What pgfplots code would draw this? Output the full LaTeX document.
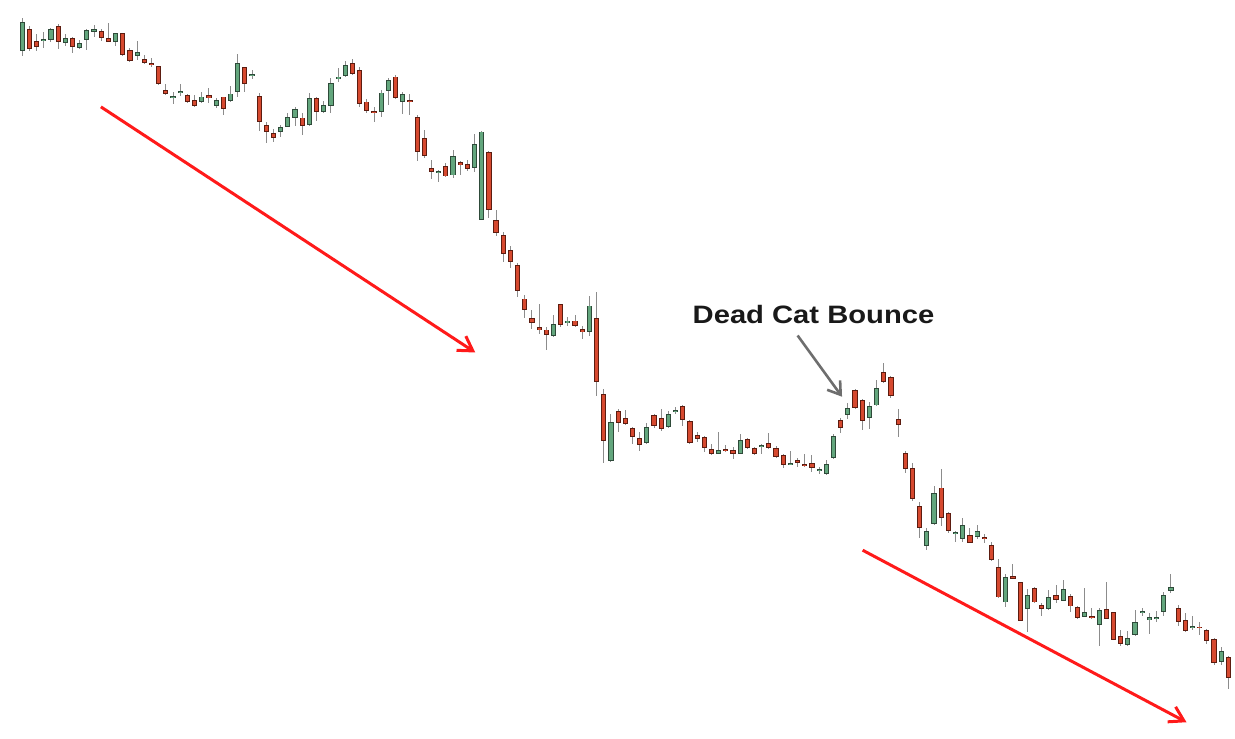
\documentclass[border=0pt]{standalone}
\usepackage{graphicx}
\usepackage{pgfplots}
\usepackage{pgfplotstable}
\pgfplotsset{compat=1.18}
\usepackage{fontspec}
\setmainfont{Liberation Sans}
\usetikzlibrary{arrows.meta}

\definecolor{upfill}{HTML}{63A67D}
\definecolor{upedge}{HTML}{2E4A39}
\definecolor{dnfill}{HTML}{D6492F}
\definecolor{dnedge}{HTML}{5C1C10}
\definecolor{wickc}{HTML}{8C8C8C}
\definecolor{trendred}{HTML}{FF1A1A}
\definecolor{notegray}{HTML}{6E6E6E}

% candles: i = bar number, h/l = high/low, t/b = top/bottom of the body
% (values are picture heights, measured from the top)
\pgfplotstableread{
i h l t b
1 17.7 55.7 22.3 51
4 31.7 48.3 39 40.3
5 27.7 42.3 29 40
7 34.3 45.7 38.3 43.3
9 40 49.3 43.3 48
10 29 50 30 40
11 25 37 29 31.7
14 33.3 45.7 33.3 41.7
17 41 60 51.7 55.7
22 91.7 104.3 96.3 97.3
23 84.3 96.3 91.3 92.7
26 92.3 103.3 96.7 102.3
28 98.3 107.7 100 105.7
30 85.7 101.7 93.7 101
31 54.3 96.7 62.7 92.3
33 70 79.3 74.7 76
37 125 137.3 127.3 131.7
38 113.3 127.3 117.3 126.7
39 106.7 126 109.3 117.7
41 93.3 126 98.3 125
43 100.7 113.3 105 112.3
44 78.3 113.3 83.3 105.7
45 68.3 81.7 76.7 79.3
46 60.7 77.3 64.7 75.7
51 90 117.3 92.7 111.7
52 78.3 105 80 91
54 91.7 114 94.3 102.3
59 170.7 182.7 171.7 173
61 150 178.3 156 175.7
64 134 172.3 144 168.3
65 130.7 220.7 131.7 220
75 315 337.3 324.3 336.7
77 317.7 326 321 323.3
80 296 336.7 306 332.7
83 415 462.3 422.3 461.7
88 423.3 444.3 427.7 443.3
91 411.7 428.3 415 427.7
92 407.3 415 410.7 412.3
98 432.3 455 451 454.3
101 434.3 455 441 454.3
104 444.3 454.3 445.7 447.7
108 451.7 465 464 465.5
112 467.7 475 470 471
113 460.5 475.5 465 474.7
114 435 460 436.7 459
116 404 420 408.3 416
119 402.3 430 406.7 419
120 380.7 406.7 388.3 406
127 528.3 550.7 531.7 546.7
128 486.7 525.7 494 525
131 531.7 543.3 533.3 534.3
132 518.3 542.7 526 540
134 526 540 531.7 537.7
138 575 608.3 578.3 603.3
141 590 632.7 596 610
144 591 610.7 598.3 610
146 581 602.3 590 601.7
149 589.3 618.3 612.7 617.5
151 609.3 647.3 610.7 625.7
155 631.7 646.7 639 645.7
156 610.7 636.7 622.7 636
157 609.3 616.7 611.7 614
158 614 635 618.3 620.7
159 611.7 623.3 618.3 619.3
160 593.3 617.3 596 613.3
161 575 594.3 587.7 591.7
164 616.7 631 626.7 629
168 648.3 666 651.7 663.3
}\upbars

\pgfplotstableread{
i h l t b
2 25.7 51 29 49
3 34.3 51 40.7 47.3
6 24.3 49 25.7 42.3
8 36.7 52.7 37.7 47.3
12 29 41 31 38.3
13 23.3 41.7 37.7 41.7
15 33.3 55.7 33.3 55
16 48.3 61.7 50 60.7
18 55 64.3 59 63.3
19 57.7 66.7 63.7 65
20 66 85 66 84
21 84.3 95 90 94
24 94.3 103.3 95 102.3
25 95 107 100 106.3
27 87.7 103.3 95 98.3
29 96.7 115 96.7 109
32 66.7 92 67.3 84
34 93.3 130.7 96 121.7
35 121.7 143.3 125.3 131.7
36 129.3 142.7 133.3 137.7
40 113.3 135 117.7 126
42 96.7 121 98.3 112.3
47 59 75 62.7 74.3
48 67.3 107.3 70 104
49 99.3 113.3 101.7 110.7
50 107.3 121.7 111 113.3
53 75 99.3 76.7 97.7
55 94 115 100.7 102.3
56 115 161.7 117.3 152.3
57 130 158.3 138.3 156
58 160.7 179.3 168 172
60 163.3 177.3 166.7 176.7
62 161.7 175 162.7 165.3
63 160 171.7 164 169.3
66 151.7 218.3 152.3 210.7
67 210 236.7 220.7 233.3
68 232.7 262.7 235.7 254
69 246 268.3 250 262.7
70 263.3 297.3 265 291
71 295 318.3 299 310.7
72 310.7 329.3 318.3 323.3
73 304 334 327.7 330.7
74 327.7 350.7 330 335.7
76 304 327.3 304.3 325.3
78 315 327.3 321 326.3
79 326.7 339.3 329.3 332.7
81 292.3 396.7 318.3 382.7
82 390 463.3 394.3 441.7
84 410 432.3 411.7 423.3
85 411 425.7 418.3 425
86 427.7 444.3 428.3 437.7
87 432.3 451.7 439 445.7
89 414.3 428.3 415.7 426.7
90 410 431.7 418.3 430
93 405.7 426.7 406.7 420.7
94 421 444.3 421.7 443.3
95 432.7 442.3 436 439.3
96 436.7 452.3 437.3 449
97 445 456 449.3 455
99 445.7 452.7 449.3 451.7
100 447.7 459.3 451 454.3
102 439 450 440 449
103 447.7 456 448.3 455
105 433.3 450 443.3 449
106 446.7 459 448.3 457.7
107 454.3 469 456 465.7
109 459 467.7 461 463.3
110 454.3 467.7 465 466.7
111 456 472.3 464 469
115 418.3 434 420.7 428.3
117 390 410 390.7 408.3
118 399.3 430.7 401 421.7
121 364 384 372.3 382.7
122 376.7 399 377.3 396.7
123 409.3 437.3 419.3 425.3
124 451.7 473.3 454 470
125 463.3 501.7 468.3 500
126 502.7 538.3 506.7 528.3
129 469.3 526.7 488.3 518.3
130 513 533.3 514 532
133 528.3 544.3 536 544
135 534.3 544.3 537.7 540
136 543.3 561.7 545.7 560.7
137 560 599 568.3 598.3
139 565 580 576.7 580
140 582.7 622.3 582.7 621.7
142 588.3 604 589.3 603.3
143 604 617.3 606 610
145 586 604 596 601
147 595 612.7 597.3 607.3
148 607.3 620 608.3 619.3
150 609.3 620 617.3 619.3
152 583.3 620 610 620
153 612.7 641 613.3 640.7
154 631 647.3 637.3 645
162 606 626.7 609.3 623.3
163 614.3 632.7 621 631.7
165 622.7 636 627.7 629
166 630 645 631 641.7
167 639.3 666 640 664.3
169 656.7 690 658.3 679.3
}\downbars

\pgfplotsset{
  wick/.style={draw=none, mark=none, forget plot,
    error bars/.cd, y dir=both, y explicit, error mark=none,
    error bar style={draw=wickc, line width=0.5pt}},
  body/.style={draw=none, mark=none, forget plot,
    error bars/.cd, y dir=both, y explicit, error mark=none,
    error bar style={draw=#1, line width=2.6pt}},
  core/.style={draw=none, mark=none, forget plot,
    error bars/.cd, y dir=both, y explicit, error mark=none,
    error bar style={draw=#1, line width=1.6pt}},
}

\begin{document}
\begin{tikzpicture}
\begin{axis}[
  width=617.5pt, height=370pt, scale only axis,
  xmin=-2.1015, xmax=169.67,
  ymin=0, ymax=740, y dir=reverse,
  axis line style={draw=none},
  xtick=\empty, ytick=\empty,
  clip=false,
]
% wicks
\addplot[wick] table[x=i, y expr={(\thisrow{h}+\thisrow{l})/2},
  y error expr={(\thisrow{l}-\thisrow{h})/2}] {\upbars};
\addplot[wick] table[x=i, y expr={(\thisrow{h}+\thisrow{l})/2},
  y error expr={(\thisrow{l}-\thisrow{h})/2}] {\downbars};
% bodies: dark outline, then the fill
\addplot[body=upedge] table[x=i, y expr={(\thisrow{t}+\thisrow{b})/2},
  y error expr={max((\thisrow{b}-\thisrow{t})/2,0.9)}] {\upbars};
\addplot[core=upfill] table[x=i, y expr={(\thisrow{t}+\thisrow{b})/2},
  y error expr={max((\thisrow{b}-\thisrow{t})/2-0.9,0.05)}] {\upbars};
\addplot[body=dnedge] table[x=i, y expr={(\thisrow{t}+\thisrow{b})/2},
  y error expr={max((\thisrow{b}-\thisrow{t})/2,0.9)}] {\downbars};
\addplot[core=dnfill] table[x=i, y expr={(\thisrow{t}+\thisrow{b})/2},
  y error expr={max((\thisrow{b}-\thisrow{t})/2-0.9,0.05)}] {\downbars};

% trend arrows
\addplot[trendred, line width=1.5pt, mark=none, forget plot,
  -{Straight Barb[length=7pt,width=8.5pt]}] coordinates {(11.95,107) (64.1,353)};
\addplot[trendred, line width=1.5pt, mark=none, forget plot,
  -{Straight Barb[length=7pt,width=8.5pt]}] coordinates {(118.06,551) (163.17,723.3)};
% annotation
\addplot[notegray, line width=1.3pt, mark=none, forget plot,
  -{Straight Barb[length=6pt,width=8pt]}] coordinates {(109.0,336) (115.19,397.3)};
\node[anchor=base west, inner sep=0pt, text=black!90] at (axis cs:94.33,324)
  {\scalebox{1.16}[1]{\fontsize{12.6}{14}\selectfont\bfseries Dead Cat Bounce}};
\end{axis}
\end{tikzpicture}
\end{document}
